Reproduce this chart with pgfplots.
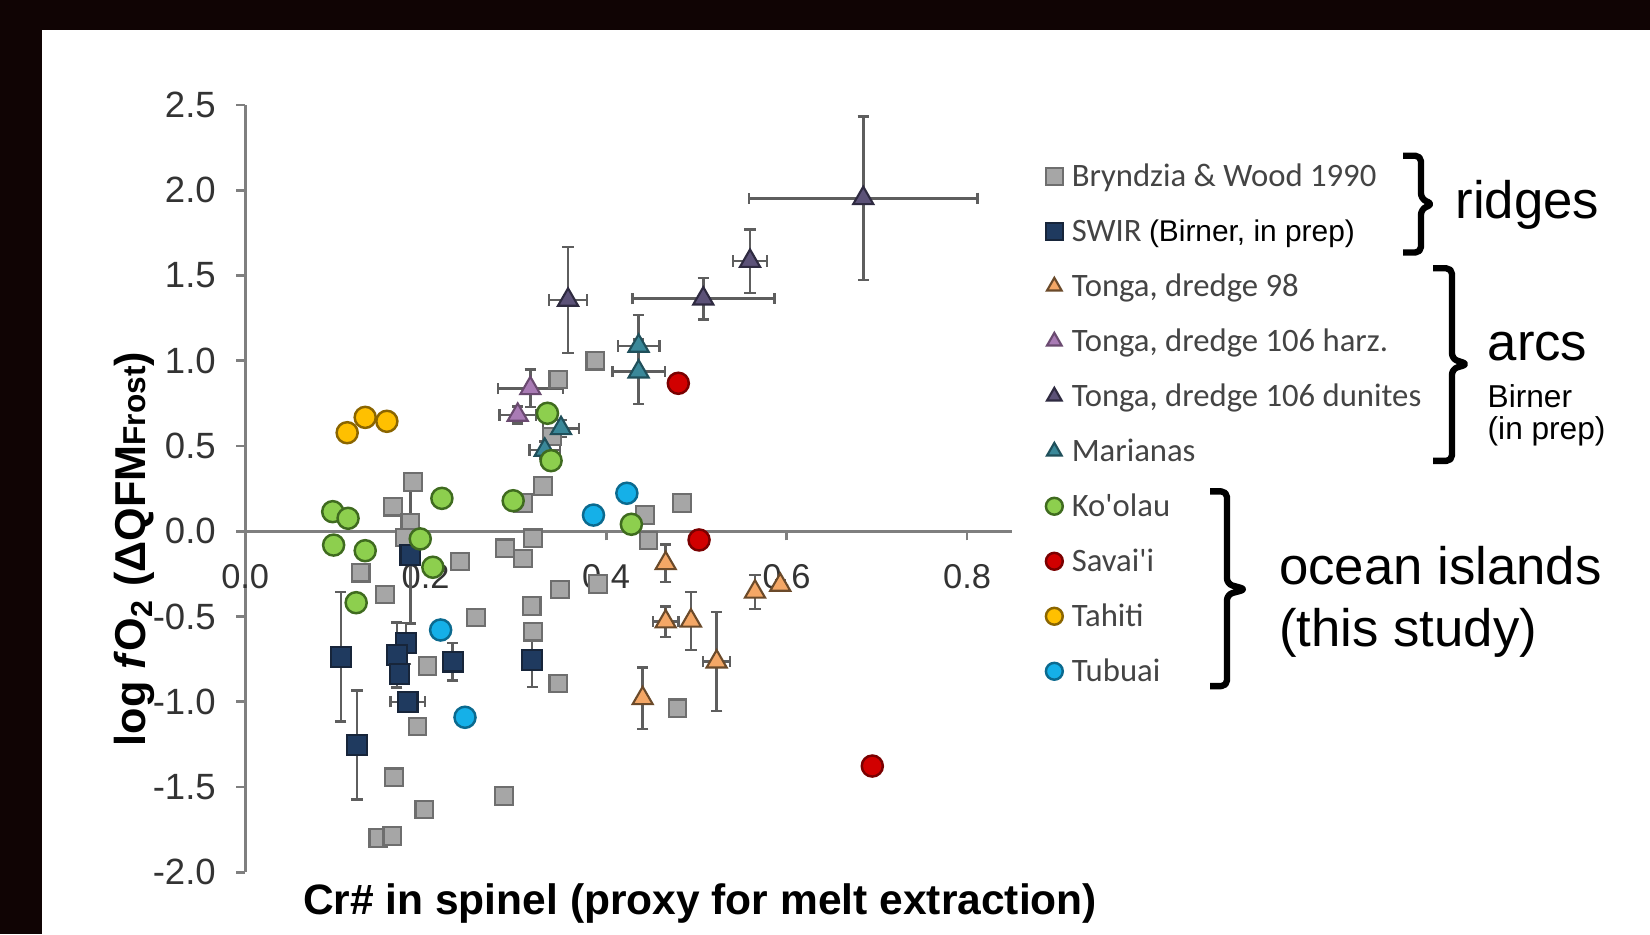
\documentclass[border=0pt]{standalone}
\usepackage{pgfplots}
\pgfplotsset{compat=1.18}
\usepackage{pgfplotstable}
\usepackage{fontspec}
\setmainfont{Liberation Sans}
\newfontfamily\calibri{Carlito}

\definecolor{bwfill}{HTML}{A6A6A6}
\definecolor{bwdraw}{HTML}{6E6E6E}
\definecolor{swirfill}{HTML}{1F3A5F}
\definecolor{swirdraw}{HTML}{17253A}
\definecolor{tofill}{HTML}{F4A766}
\definecolor{todraw}{HTML}{6B4A2A}
\definecolor{hzfill}{HTML}{A97BB5}
\definecolor{hzdraw}{HTML}{6A4A70}
\definecolor{dufill}{HTML}{5C5278}
\definecolor{dudraw}{HTML}{2E2A40}
\definecolor{mafill}{HTML}{3A8899}
\definecolor{madraw}{HTML}{1F4F5A}
\definecolor{kofill}{HTML}{8DCF4E}
\definecolor{kodraw}{HTML}{3F6B1F}
\definecolor{safill}{HTML}{D10000}
\definecolor{sadraw}{HTML}{7A0000}
\definecolor{tafill}{HTML}{FFC000}
\definecolor{tadraw}{HTML}{8A6500}
\definecolor{tufill}{HTML}{15B0E8}
\definecolor{tudraw}{HTML}{0B6A8F}
\definecolor{axisgray}{HTML}{7F7F7F}
\definecolor{ticktext}{HTML}{333333}
\definecolor{legtext}{HTML}{444444}
\definecolor{errgray}{HTML}{5E5E5E}
\definecolor{frame}{HTML}{100404}

\pgfplotsset{
  myerr/.style={
    error bars/x dir=both, error bars/x explicit,
    error bars/y dir=both, error bars/y explicit,
    error bars/error bar style={errgray, line width=0.7pt},
    error bars/error mark options={errgray, line width=0.7pt, mark size=1.6pt, rotate=90},
  }
}

\pgfplotstableread{
x y
0.388 1.00
0.347 0.89
0.340 0.555
0.186 0.29
0.164 0.144
0.183 0.05
0.177 -0.036
0.128 -0.243
0.155 -0.37
0.238 -0.178
0.256 -0.505
0.330 0.265
0.308 0.167
0.319 -0.041
0.288 -0.10
0.308 -0.159
0.349 -0.341
0.3175 -0.438
0.319 -0.589
0.391 -0.309
0.443 0.095
0.447 -0.055
0.484 0.167
0.202 -0.79
0.347 -0.892
0.191 -1.146
0.479 -1.038
0.165 -1.443
0.1985 -1.631
0.287 -1.553
0.1475 -1.80
0.163 -1.787
}\bryndzia

\pgfplotstableread{
x y ex ey
0.106 -0.736 0 0.38
0.124 -1.254 0 0.32
0.183 -0.14 0 0.40
0.178 -0.657 0 0.12
0.168 -0.726 0 0.19
0.171 -0.837 0 0.05
0.180 -1.00 0.019 0.03
0.230 -0.765 0 0.11
0.318 -0.755 0 0.16
}\swir

\pgfplotstableread{
x y ex ey
0.466 -0.188 0 0.11
0.565 -0.355 0 0.10
0.593 -0.315 0 0.03
0.466 -0.53 0.014 0.09
0.494 -0.525 0 0.17
0.5225 -0.765 0.015 0.29
0.4405 -0.98 0 0.18
}\tongaA

\pgfplotstableread{
x y ex ey
0.316 0.838 0.036 0.11
0.302 0.682 0.02 0.05
}\tongaH

\pgfplotstableread{
x y ex ey
0.685 1.953 0.1265 0.48
0.5595 1.585 0.019 0.186
0.5077 1.364 0.0787 0.123
0.3578 1.357 0.021 0.31
}\tongaD

\pgfplotstableread{
x y ex ey
0.436 1.087 0.023 0.18
0.436 0.936 0.029 0.19
0.350 0.604 0.02 0.05
0.332 0.477 0.017 0.05
}\marianas

\pgfplotstableread{
x y
0.097 0.115
0.114 0.076
0.098 -0.081
0.133 -0.114
0.218 0.193
0.194 -0.045
0.208 -0.211
0.123 -0.419
0.297 0.179
0.335 0.692
0.339 0.414
0.428 0.041
}\koolau

\pgfplotstableread{
x y
0.48 0.868
0.503 -0.051
0.695 -1.377
}\savaii

\pgfplotstableread{
x y
0.113 0.578
0.133 0.668
0.157 0.645
}\tahiti

\pgfplotstableread{
x y
0.386 0.095
0.423 0.223
0.2166 -0.579
0.2436 -1.091
}\tubuai

\begin{document}
\begin{tikzpicture}
\useasboundingbox (0,0) rectangle (16.5,9.34);
\fill[white] (0,0) rectangle (16.5,9.34);
\fill[frame] (0,9.045) rectangle (16.5,9.34);
\fill[frame] (0,0) rectangle (0.42,9.34);

\begin{axis}[
  at={(2.452cm,0.6175cm)}, anchor=south west,
  scale only axis, width=7.670cm, height=7.6725cm,
  xmin=0, xmax=0.85, ymin=-2, ymax=2.5,
  axis x line=middle, axis y line=left,
  axis line style={axisgray, line width=0.8pt, -},
  xtick={0,0.2,0.4,0.6,0.8},
  ytick={-2,-1.5,-1,-0.5,0,0.5,1,1.5,2,2.5},
  tick align=outside,
  major tick length=0.09cm,
  tick style={axisgray, line width=0.8pt},
  hide obscured x ticks=false, hide obscured y ticks=false,
  xticklabel={\pgfmathprintnumber[fixed,fixed zerofill,precision=1,assume math mode=true]{\tick}},
  yticklabel={\pgfmathprintnumber[fixed,fixed zerofill,precision=1,assume math mode=true]{\tick}},
  xticklabel style={font=\fontsize{9.8}{11}\selectfont, text=ticktext, anchor=north, yshift=-0.12cm},
  yticklabel style={font=\fontsize{10.4}{12}\selectfont, text=ticktext, anchor=east, xshift=-0.08cm},
  every axis y label/.style={at={(axis description cs:-0.144,0.4213)}, rotate=90, anchor=center, font=\bfseries\fontsize{12.3}{14}\selectfont},
  every axis x label/.style={at={(axis description cs:0.593,-0.0413)}, anchor=center, font=\bfseries\fontsize{12.1}{14}\selectfont},
  ylabel={log \textit{f}O\textsubscript{2} (ΔQFM{\fontsize{9}{10}\selectfont Frost})},
  xlabel={Cr\# in spinel (proxy for melt extraction)},
  clip=false,
  legend style={at={(1.044,0.9253)}, anchor=north west, draw=none, fill=none, inner sep=0pt, outer sep=0pt,
    font=\calibri\fontsize{9.3}{11}\selectfont, text=legtext,
    row sep=6.65pt, column sep=0.09cm,
    nodes={inner sep=0pt, text height=6.8pt, text depth=2.2pt, anchor=base west}},
  legend cell align=left,
  legend image code/.code={\draw[#1, mark size=2.4pt] plot coordinates {(0.08cm,0.1cm)};},
]
\addplot[only marks, mark=square*, mark size=2.5pt, mark options={fill=bwfill, draw=bwdraw, line width=0.6pt}]
  table[x=x,y=y] {\bryndzia};
\addlegendentry{Bryndzia \& Wood 1990}

\addplot[only marks, mark=square*, mark size=2.8pt, mark options={fill=swirfill, draw=swirdraw, line width=0.6pt}, myerr]
  table[x=x,y=y,x error=ex,y error=ey] {\swir};
\addlegendentry{SWIR {\normalfont\fontsize{8.5}{10}\selectfont\color{black}(Birner, in prep)}}

\addplot[only marks, mark=triangle*, mark size=3.3pt, mark options={fill=tofill, draw=todraw, line width=0.6pt}, myerr]
  table[x=x,y=y,x error=ex,y error=ey] {\tongaA};
\addlegendentry{Tonga, dredge 98}

\addplot[only marks, mark=triangle*, mark size=3.3pt, mark options={fill=hzfill, draw=hzdraw, line width=0.6pt}, myerr]
  table[x=x,y=y,x error=ex,y error=ey] {\tongaH};
\addlegendentry{Tonga, dredge 106 harz.}

\addplot[only marks, mark=triangle*, mark size=3.3pt, mark options={fill=dufill, draw=dudraw, line width=0.6pt}, myerr]
  table[x=x,y=y,x error=ex,y error=ey] {\tongaD};
\addlegendentry{Tonga, dredge 106 dunites}

\addplot[only marks, mark=triangle*, mark size=3.3pt, mark options={fill=mafill, draw=madraw, line width=0.6pt}, myerr]
  table[x=x,y=y,x error=ex,y error=ey] {\marianas};
\addlegendentry{Marianas}

\addplot[only marks, mark=*, mark size=3pt, mark options={fill=kofill, draw=kodraw, line width=0.7pt}]
  table[x=x,y=y] {\koolau};
\addlegendentry{Ko'olau}

\addplot[only marks, mark=*, mark size=3pt, mark options={fill=safill, draw=sadraw, line width=0.7pt}]
  table[x=x,y=y] {\savaii};
\addlegendentry{Savai'i}

\addplot[only marks, mark=*, mark size=3pt, mark options={fill=tafill, draw=tadraw, line width=0.7pt}]
  table[x=x,y=y] {\tahiti};
\addlegendentry{Tahiti}

\addplot[only marks, mark=*, mark size=3pt, mark options={fill=tufill, draw=tudraw, line width=0.7pt}]
  table[x=x,y=y] {\tubuai};
\addlegendentry{Tubuai}
\end{axis}

\node[anchor=west, inner sep=0pt, font=\fontsize{15}{17}\selectfont] at (14.55,7.293) {ridges};
\node[anchor=west, inner sep=0pt, font=\fontsize{15}{17}\selectfont] at (14.87,5.87) {arcs};
\node[anchor=west, inner sep=0pt, font=\fontsize{9}{10}\selectfont] at (14.87,5.383) {Birner};
\node[anchor=west, inner sep=0pt, font=\fontsize{9}{10}\selectfont] at (14.87,5.026) {(in prep)};
\node[anchor=west, inner sep=0pt, font=\fontsize{15}{17}\selectfont] at (12.785,3.68) {ocean islands};
\node[anchor=west, inner sep=0pt, font=\fontsize{15}{17}\selectfont] at (12.785,3.016) {(this study)};

\begin{scope}[line width=1.8pt, rounded corners=1.6pt, line join=round]
\draw (14.03,7.783) -- (14.21,7.783) -- (14.21,7.35) -- (14.33,7.299) -- (14.21,7.25) -- (14.21,6.815) -- (14.03,6.815);
\draw (14.33,6.657) -- (14.52,6.657) -- (14.52,5.75) -- (14.68,5.699) -- (14.52,5.65) -- (14.52,4.731) -- (14.33,4.731);
\draw (12.10,4.426) -- (12.27,4.426) -- (12.27,3.50) -- (12.46,3.447) -- (12.27,3.395) -- (12.27,2.479) -- (12.10,2.479);
\end{scope}
\end{tikzpicture}
\end{document}
